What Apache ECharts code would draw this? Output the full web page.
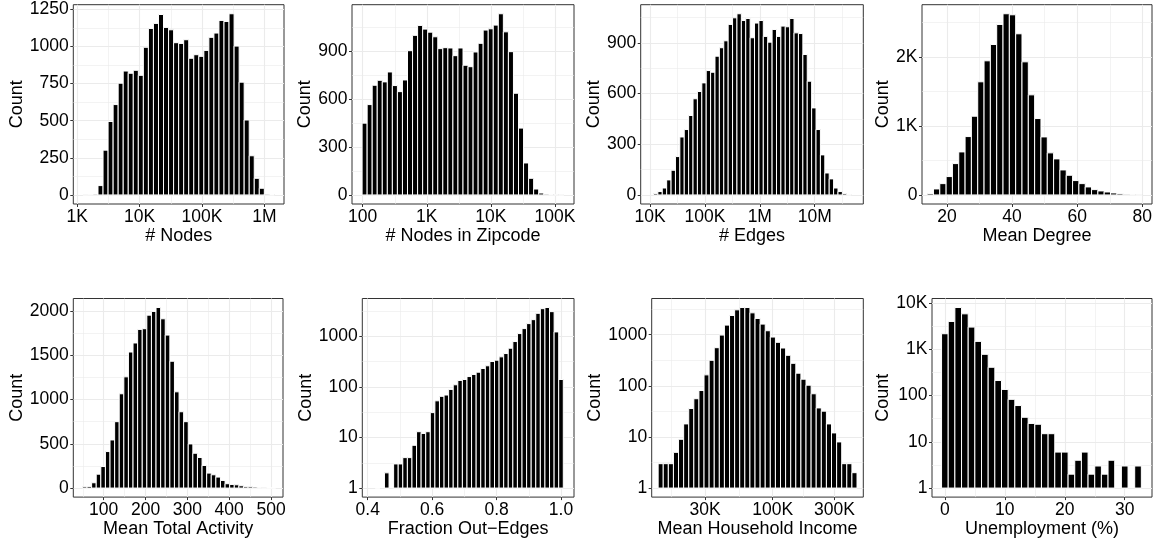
<!DOCTYPE html>
<html>
<head>
<meta charset="utf-8">
<script src="https://cdn.jsdelivr.net/npm/echarts@6/dist/echarts.min.js"></script>
<style>
html,body{margin:0;padding:0;background:#fff;}
#chart{width:1158px;height:539px;}
</style>
</head>
<body>
<div id="chart"></div>
<script>
// ================= DATA =================
// Histogram bins: left edge of first bin and bin width are in axis units
// (log10 units for log-scaled axes); counts.

// 1. # Nodes (log10 x)
const nodesBinStart = 3.0898, nodesBinWidth = 0.08085;
const nodesCounts = [1,2,5,63,302,495,609,753,835,820,840,806,995,1122,1156,1216,1129,1113,1026,1021,1046,921,945,934,974,1062,1091,1176,1169,1221,1003,760,505,264,112,45,5,3];
const nodesXTicks = [1e3,1e4,1e5,1e6];
const nodesXLabels = ['1K','10K','100K','1M'];
const nodesYTicks = [0,250,500,750,1000,1250];
const nodesYLabels = ['0','250','500','750','1000','1250'];

// 2. # Nodes in Zipcode (log10 x)
const zipBinStart = 1.9906, zipBinWidth = 0.0787;
const zipCounts = [449,565,686,717,707,769,684,646,719,902,998,1060,1037,1018,989,915,921,919,871,919,811,802,894,948,1031,1039,1062,1133,1020,896,636,418,200,104,37,12,5,3,2,1];
const zipXTicks = [1e2,1e3,1e4,1e5];
const zipXLabels = ['100','1K','10K','100K'];
const zipYTicks = [0,300,600,900];
const zipYLabels = ['0','300','600','900'];

// 3. # Edges (log10 x)
const edgesBinStart = 4.064, edgesBinWidth = 0.08;
const edgesCounts = [8,20,41,89,146,227,343,387,470,569,612,663,736,726,821,871,912,1009,1048,1072,1032,1044,930,1017,1032,938,904,979,938,999,995,1044,959,955,831,673,515,387,237,130,95,41,20,8,3];
const edgesXTicks = [1e4,1e5,1e6,1e7];
const edgesXLabels = ['10K','100K','1M','10M'];
const edgesYTicks = [0,300,600,900];
const edgesYLabels = ['0','300','600','900'];

// 4. Mean Degree
const degreeBinStart = 13.91, degreeBinWidth = 1.942;
const degreeCounts = [20,87,164,266,454,623,845,1140,1638,1942,2178,2468,2623,2608,2333,1927,1449,1106,840,609,522,362,285,208,164,116,77,58,43,29,19,10,5,2];
const degreeXTicks = [20,40,60,80];
const degreeXLabels = ['20','40','60','80'];
const degreeYTicks = [0,1000,2000];
const degreeYLabels = ['0','1K','2K'];

// 5. Mean Total Activity
const activityBinStart = 49.1, activityBinWidth = 11;
const activityCounts = [15,19,60,157,243,412,543,749,1064,1255,1535,1637,1790,1798,1951,1993,2037,1910,1726,1431,1086,861,749,498,393,345,255,169,150,124,86,49,41,37,26,15,15,11,5,3,2,2];
const activityXTicks = [100,200,300,400,500];
const activityXLabels = ['100','200','300','400','500'];
const activityYTicks = [0,500,1000,1500,2000];
const activityYLabels = ['0','500','1000','1500','2000'];

// 6. Fraction Out-Edges (log10 y)
const fracBinStart = 0.4235, fracBinWidth = 0.014235;
const fracCounts = [1,0,2,0,3,3,4,4,7,13,12,13,31,53,65,69,89,110,134,140,160,176,195,231,261,317,337,392,456,581,787,1131,1418,1780,2132,2843,3514,3700,3067,1220,140];
const fracXTicks = [0.4,0.6,0.8,1.0];
const fracXLabels = ['0.4','0.6','0.8','1.0'];
const fracYTicks = [1,10,100,1000];
const fracYLabels = ['1','10','100','1000'];

// 7. Mean Household Income (log10 x, log10 y)
const incomeBinStart = 4.1148, incomeBinWidth = 0.0394;
const incomeCounts = [3,3,3,5,9,18,36,56,81,164,316,558,985,1543,2381,3070,3407,3407,2682,2080,1614,1197,901,710,550,396,276,177,135,103,70,37,32,18,12,8,3,3,2];
const incomeXTicks = [3e4,1e5,3e5];
const incomeXLabels = ['30K','100K','300K'];
const incomeYTicks = [1,10,100,1000];
const incomeYLabels = ['1','10','100','1000'];

// 8. Unemployment (%) (log10 y)
const unempBinStart = -0.5555, unempBinWidth = 1.111;
const unempCounts = [2178,4015,8040,5870,3033,1489,782,410,212,136,83,61,34,25,24,15,15,6,6,2,4,6,2,3,2,4,0,3,0,3];
const unempXTicks = [0,10,20,30];
const unempXLabels = ['0','10','20','30'];
const unempYTicks = [1,10,100,1000,10000];
const unempYLabels = ['1','10','100','1K','10K'];

// ================= LAYOUT / STYLE =================
const FONT = '"Liberation Sans", Arial, Helvetica, sans-serif';
const L10 = v => Math.log10(v);

const panels = [
  {grid:{left:73.3, top:4.7, width:210.7, height:199.3}, xName:'# Nodes', xLog:true, xMin:2.936, xMax:6.316,
   xTicks:nodesXTicks, xLabels:nodesXLabels, xStep:1, yLog:false, yTicks:nodesYTicks, yLabels:nodesYLabels, yStep:250,
   yNameGap:44, binStart:nodesBinStart, binWidth:nodesBinWidth, counts:nodesCounts},
  {grid:{left:352, top:4.7, width:222, height:199.3}, xName:'# Nodes in Zipcode', xLog:true, xMin:1.833, xMax:5.296,
   xTicks:zipXTicks, xLabels:zipXLabels, xStep:1, yLog:false, yTicks:zipYTicks, yLabels:zipYLabels, yStep:300,
   yNameGap:32, binStart:zipBinStart, binWidth:zipBinWidth, counts:zipCounts},
  {grid:{left:640.7, top:4.7, width:222.6, height:199.3}, xName:'# Edges', xLog:true, xMin:3.831, xMax:7.885,
   xTicks:edgesXTicks, xLabels:edgesXLabels, xStep:1, yLog:false, yTicks:edgesYTicks, yLabels:edgesYLabels, yStep:300,
   yNameGap:29.5, binStart:edgesBinStart, binWidth:edgesBinWidth, counts:edgesCounts},
  {grid:{left:922, top:4.7, width:230, height:199.3}, xName:'Mean Degree', xLog:false, xMin:12.33, xMax:82.97,
   xTicks:degreeXTicks, xLabels:degreeXLabels, xStep:20, yLog:false, yTicks:degreeYTicks, yLabels:degreeYLabels, yStep:1000,
   yNameGap:22.5, binStart:degreeBinStart, binWidth:degreeBinWidth, counts:degreeCounts},
  {grid:{left:73.3, top:298.5, width:209.7, height:199.8}, xName:'Mean Total Activity', xLog:false, xMin:27.3, xMax:528.6,
   xTicks:activityXTicks, xLabels:activityXLabels, xStep:100, yLog:false, yTicks:activityYTicks, yLabels:activityYLabels, yStep:500,
   yNameGap:44, binStart:activityBinStart, binWidth:activityBinWidth, counts:activityCounts},
  {grid:{left:362.3, top:298.5, width:211.7, height:199.8}, xName:'Fraction Out\u2212Edges', xLog:false, xMin:0.3832, xMax:1.0404,
   xTicks:fracXTicks, xLabels:fracXLabels, xStep:0.2, yLog:true, yTicks:fracYTicks, yLabels:fracYLabels, yStep:1,
   yNameGap:42, binStart:fracBinStart, binWidth:fracBinWidth, counts:fracCounts},
  {grid:{left:651.7, top:298.5, width:211.6, height:199.8}, xName:'Mean Household Income', xLog:true, xMin:4.065, xMax:5.700,
   xTicks:incomeXTicks, xLabels:incomeXLabels, xStep:null, yLog:true, yTicks:incomeYTicks, yLabels:incomeYLabels, yStep:1,
   yNameGap:40.5, binStart:incomeBinStart, binWidth:incomeBinWidth, counts:incomeCounts},
  {grid:{left:932, top:298.5, width:220, height:199.8}, xName:'Unemployment (%)', xLog:false, xMin:-2.15, xMax:34.55,
   xTicks:unempXTicks, xLabels:unempXLabels, xStep:10, yLog:true, yTicks:unempYTicks, yLabels:unempYLabels, yStep:1,
   yNameGap:32, binStart:unempBinStart, binWidth:unempBinWidth, counts:unempCounts}
];

function axisCfg(dim, gi, min, max, ticks, labels, step, name, nameGap) {
  const ax = {
    type: 'value', gridIndex: gi, min: min, max: max,
    position: dim === 'x' ? 'bottom' : 'left',
    name: name, nameLocation: 'middle', nameGap: nameGap,
    nameTextStyle: {fontFamily: FONT, fontSize: 18, color: '#000'},
    axisLine: {show: false, onZero: false},
    axisTick: {show: true, length: 3, lineStyle: {color: '#333', width: 1}, customValues: ticks},
    axisLabel: {
      show: true, customValues: ticks, margin: dim === 'x' ? 4 : 4.5,
      fontFamily: FONT, fontSize: 17.5, color: '#000',
      formatter: function (v) {
        for (let k = 0; k < ticks.length; k++) if (Math.abs(ticks[k] - v) < 1e-6) return labels[k];
        return '';
      }
    },
    splitLine: {show: true, lineStyle: {color: '#EBEBEB', width: 1.1}},
    minorTick: {show: false, splitNumber: 2},
    minorSplitLine: {show: step != null, lineStyle: {color: '#EBEBEB', width: 0.6}}
  };
  if (step != null) { ax.minInterval = step; ax.maxInterval = step; }
  return ax;
}

const option = {animation: false, backgroundColor: '#fff', grid: [], xAxis: [], yAxis: [], series: []};

panels.forEach(function (p, i) {
  option.grid.push(Object.assign({show: true, borderColor: '#333', borderWidth: 1, backgroundColor: 'transparent'}, p.grid));
  const xT = p.xLog ? p.xTicks.map(L10) : p.xTicks;
  option.xAxis.push(axisCfg('x', i, p.xMin, p.xMax, xT, p.xLabels, p.xStep, p.xName, 16));
  const maxC = Math.max.apply(null, p.counts);
  const top = p.yLog ? L10(maxC) : maxC;
  const yMin = -0.05 * top, yMax = 1.05 * top;
  const yT = p.yLog ? p.yTicks.map(L10) : p.yTicks;
  option.yAxis.push(axisCfg('y', i, yMin, yMax, yT, p.yLabels, p.yStep, 'Count', p.yNameGap));

  const data = p.counts.map(function (c, k) {
    return [p.binStart + k * p.binWidth, p.binStart + (k + 1) * p.binWidth, c];
  });
  option.series.push({
    type: 'custom', xAxisIndex: i, yAxisIndex: i, silent: true, clip: true,
    data: data,
    encode: {x: [0, 1], y: 2},
    renderItem: function (params, api) {
      const x0 = api.value(0), x1 = api.value(1), c = api.value(2);
      if (!(c > 0)) return null;
      const h = p.yLog ? L10(c) : c;
      const a = api.coord([x0, h]);
      const b = api.coord([x1, 0]);
      return {
        type: 'rect',
        shape: {x: a[0], y: a[1], width: b[0] - a[0], height: b[1] - a[1]},
        style: {fill: '#000', stroke: '#fff', lineWidth: 1}
      };
    }
  });
});

// Extra axis for the minor grid lines of the income panel (log breaks 30K/100K/300K)
(function () {
  const gi = 6, p = panels[gi];
  const M = p.xTicks.map(L10);
  const minors = [M[0] - (M[1] - M[0]) / 2];
  for (let k = 0; k < M.length - 1; k++) minors.push((M[k] + M[k + 1]) / 2);
  minors.push(M[M.length - 1] + (M[M.length - 1] - M[M.length - 2]) / 2);
  option.xAxis.push({
    type: 'value', gridIndex: gi, min: p.xMin, max: p.xMax, position: 'top',
    axisLine: {show: false, onZero: false},
    axisTick: {show: false, customValues: minors},
    axisLabel: {show: false},
    splitLine: {show: true, lineStyle: {color: '#EBEBEB', width: 0.6}}
  });
})();

const chart = echarts.init(document.getElementById('chart'), null, {renderer: 'canvas', width: 1158, height: 539});
chart.setOption(option);
</script>
</body>
</html>
